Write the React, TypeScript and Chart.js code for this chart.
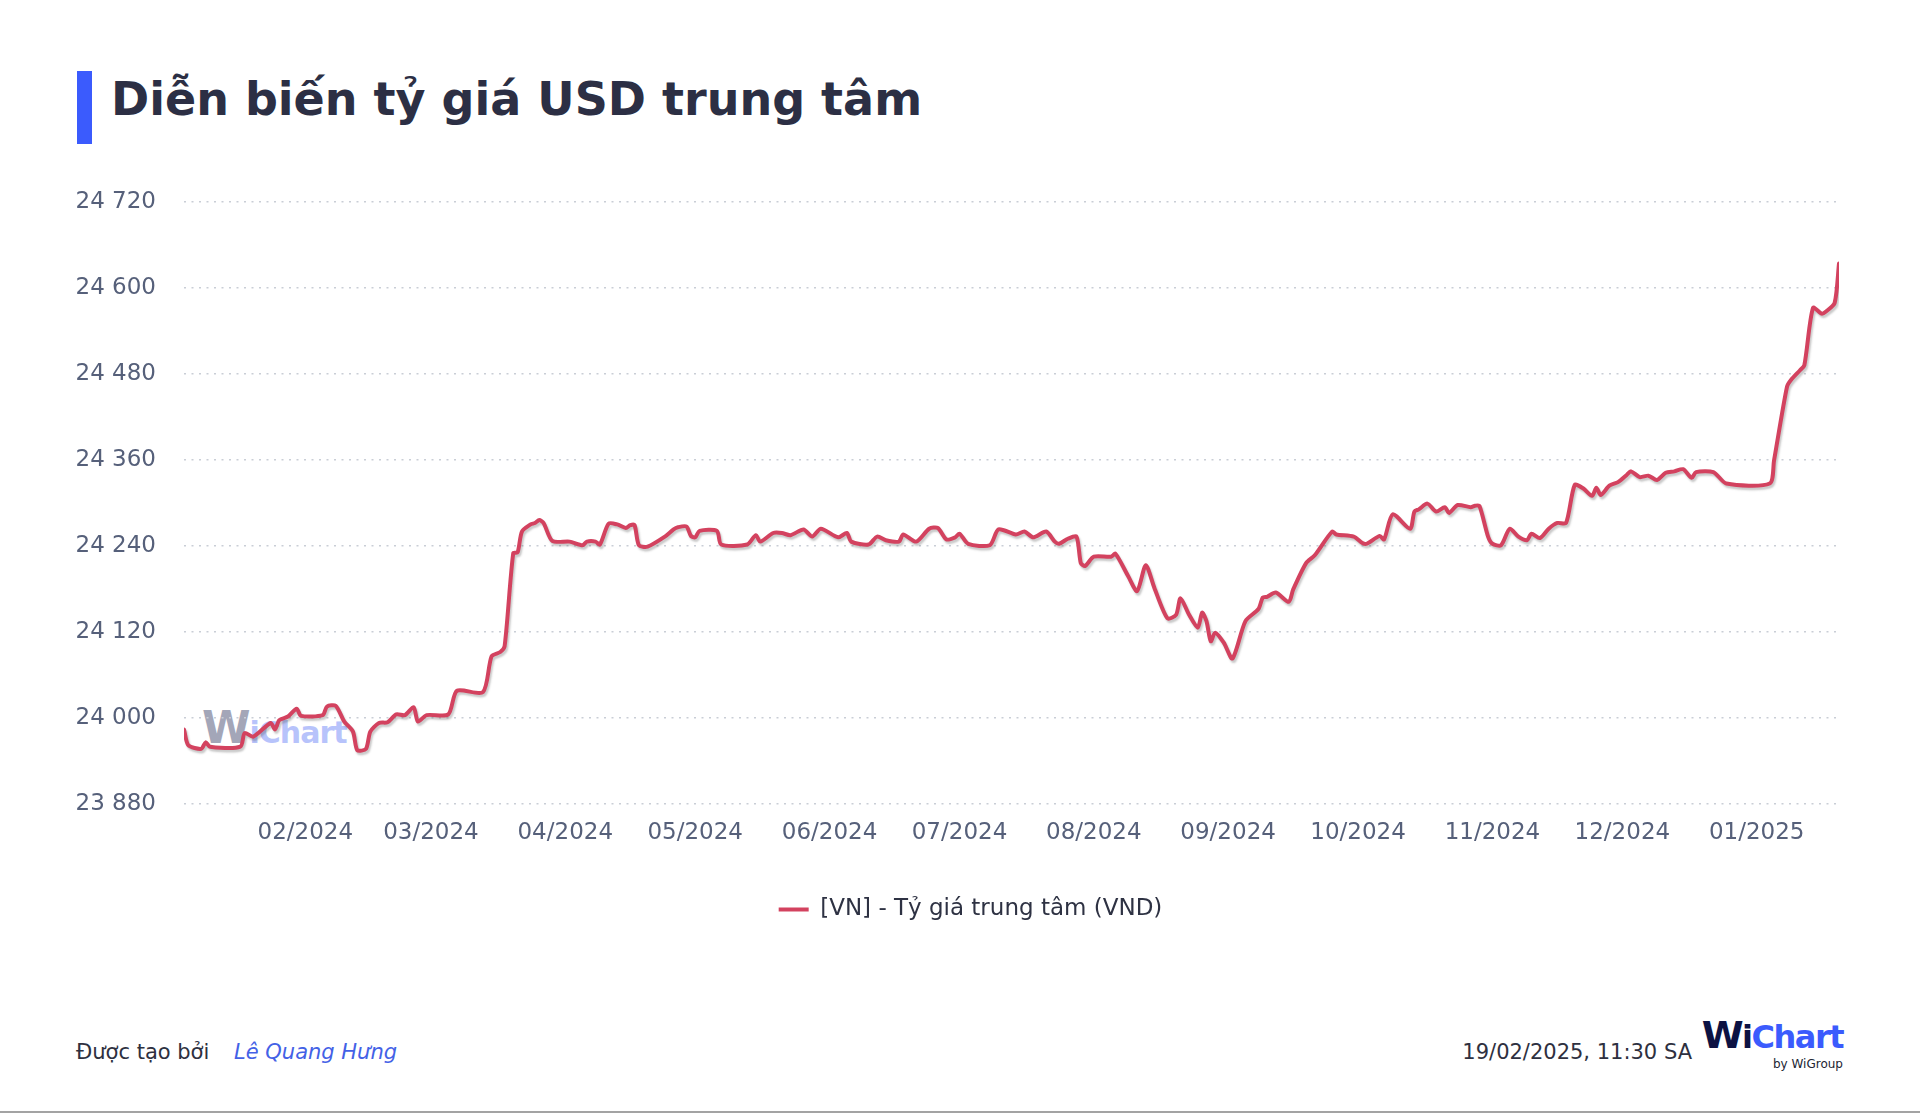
import React, { useEffect, useRef } from "react";
import Chart from "chart.js/auto";

// dates of the points (ISO, UTC)
const dates = [
	"2024-01-04", "2024-01-05", "2024-01-08", "2024-01-09", "2024-01-10", "2024-01-17", "2024-01-18", "2024-01-20",
	"2024-01-24", "2024-01-25", "2024-01-26", "2024-01-28", "2024-01-30", "2024-01-31", "2024-02-05", "2024-02-06",
	"2024-02-08", "2024-02-10", "2024-02-12", "2024-02-13", "2024-02-15", "2024-02-16", "2024-02-18", "2024-02-20",
	"2024-02-22", "2024-02-24", "2024-02-26", "2024-02-27", "2024-02-29", "2024-03-05", "2024-03-07", "2024-03-13",
	"2024-03-15", "2024-03-17", "2024-03-18", "2024-03-20", "2024-03-21", "2024-03-22", "2024-03-24", "2024-03-25",
	"2024-03-26", "2024-03-27", "2024-03-29", "2024-04-02", "2024-04-05", "2024-04-06", "2024-04-08", "2024-04-09",
	"2024-04-11", "2024-04-13", "2024-04-15", "2024-04-16", "2024-04-17", "2024-04-18", "2024-04-20", "2024-04-24",
	"2024-04-26", "2024-04-27", "2024-04-29", "2024-04-30", "2024-05-01", "2024-05-02", "2024-05-06", "2024-05-07",
	"2024-05-13", "2024-05-15", "2024-05-16", "2024-05-19", "2024-05-21", "2024-05-23", "2024-05-26", "2024-05-28",
	"2024-05-30", "2024-06-03", "2024-06-05", "2024-06-06", "2024-06-10", "2024-06-12", "2024-06-14", "2024-06-17",
	"2024-06-18", "2024-06-21", "2024-06-24", "2024-06-26", "2024-06-28", "2024-06-30", "2024-07-01", "2024-07-03",
	"2024-07-08", "2024-07-10", "2024-07-14", "2024-07-16", "2024-07-18", "2024-07-21", "2024-07-23", "2024-07-24",
	"2024-07-26", "2024-07-28", "2024-07-29", "2024-07-30", "2024-08-01", "2024-08-05", "2024-08-06", "2024-08-09",
	"2024-08-11", "2024-08-13", "2024-08-15", "2024-08-18", "2024-08-20", "2024-08-21", "2024-08-23", "2024-08-25",
	"2024-08-26", "2024-08-27", "2024-08-28", "2024-08-29", "2024-08-31", "2024-09-02", "2024-09-05", "2024-09-08",
	"2024-09-09", "2024-09-10", "2024-09-12", "2024-09-15", "2024-09-16", "2024-09-19", "2024-09-21", "2024-09-25",
	"2024-09-26", "2024-09-30", "2024-10-02", "2024-10-03", "2024-10-06", "2024-10-07", "2024-10-09", "2024-10-13",
	"2024-10-14", "2024-10-15", "2024-10-17", "2024-10-19", "2024-10-21", "2024-10-22", "2024-10-24", "2024-10-27",
	"2024-10-28", "2024-10-29", "2024-10-31", "2024-11-01", "2024-11-03", "2024-11-05", "2024-11-07", "2024-11-09",
	"2024-11-10", "2024-11-12", "2024-11-14", "2024-11-16", "2024-11-18", "2024-11-20", "2024-11-22", "2024-11-24",
	"2024-11-25", "2024-11-26", "2024-11-28", "2024-11-30", "2024-12-02", "2024-12-03", "2024-12-05", "2024-12-07",
	"2024-12-09", "2024-12-11", "2024-12-13", "2024-12-15", "2024-12-17", "2024-12-18", "2024-12-22", "2024-12-25",
	"2025-01-04", "2025-01-05", "2025-01-08", "2025-01-09", "2025-01-11", "2025-01-12", "2025-01-14", "2025-01-16",
	"2025-01-17", "2025-01-19", "2025-01-20",
];

// central rate, VND per USD
const rates = [
	23984, 23962, 23957, 23966, 23960, 23960, 23979, 23974,
	23993, 23984, 23997, 24002, 24013, 24003, 24004, 24016,
	24017, 23995, 23981, 23955, 23957, 23981, 23993, 23994,
	24005, 24004, 24015, 23995, 24004, 24005, 24038, 24036,
	24086, 24092, 24100, 24230, 24231, 24260, 24270, 24272,
	24276, 24272, 24247, 24246, 24241, 24246, 24246, 24242,
	24271, 24270, 24265, 24269, 24269, 24241, 24239, 24253,
	24263, 24266, 24267, 24254, 24252, 24261, 24261, 24242,
	24242, 24255, 24246, 24258, 24258, 24255, 24263, 24253,
	24264, 24252, 24258, 24246, 24242, 24253, 24248, 24246,
	24256, 24246, 24264, 24265, 24249, 24252, 24257, 24243,
	24241, 24263, 24256, 24260, 24252, 24260, 24246, 24243,
	24250, 24253, 24216, 24212, 24225, 24225, 24229, 24197,
	24177, 24213, 24181, 24139, 24144, 24167, 24144, 24126,
	24147, 24135, 24107, 24119, 24105, 24083, 24135, 24152,
	24168, 24169, 24175, 24162, 24179, 24216, 24227, 24260,
	24256, 24253, 24244, 24243, 24254, 24249, 24284, 24264,
	24288, 24291, 24299, 24288, 24294, 24286, 24297, 24294,
	24296, 24296, 24253, 24243, 24241, 24264, 24253, 24248,
	24257, 24251, 24264, 24272, 24272, 24325, 24320, 24310,
	24321, 24311, 24324, 24329, 24339, 24344, 24336, 24338,
	24332, 24342, 24344, 24347, 24335, 24343, 24343, 24327,
	24327, 24359, 24462, 24472, 24485, 24492, 24572, 24564,
	24567, 24579, 24634,
];

const monthTicks = [
	"2024-02-01", "2024-03-01", "2024-04-01", "2024-05-01", "2024-06-01", "2024-07-01",
	"2024-08-01", "2024-09-01", "2024-10-01", "2024-11-01", "2024-12-01", "2025-01-01",
];

const yMin = 23880;
const yMax = 24720;
const yStep = 120;

const seriesLabel = "[VN] - Tỷ giá trung tâm (VND)";
const LINE_COLOR = "#d3425f";

const DAY = 86400000;
const BASE = Date.UTC(2024, 0, 1);
const toDay = (s: string) => (Date.parse(s) - BASE) / DAY;

const monthLabel = (day: number) => {
	const d = new Date(BASE + day * DAY);
	const m = String(d.getUTCMonth() + 1).padStart(2, "0");
	return m + "/" + d.getUTCFullYear();
};

const spaced = (v: number) => String(v).replace(/\B(?=(\d{3})+(?!\d))/g, " ");

// soft grey shadow under the line
const shadowPlugin = {
	id: "lineShadow",
	beforeDatasetsDraw(chart: any) {
		const ctx = chart.ctx;
		ctx.save();
		ctx.shadowColor = "rgba(60, 60, 60, 0.28)";
		ctx.shadowBlur = 2;
		ctx.shadowOffsetX = 1.5;
		ctx.shadowOffsetY = 2.5;
	},
	afterDatasetsDraw(chart: any) {
		chart.ctx.restore();
	},
};

// the legend sits a little right of the canvas centre in the original
const legendShift = {
	id: "legendShift",
	afterLayout(chart: any) {
		if (chart.legend) {
			chart.legend.left += 21;
			chart.legend.right += 21;
		}
	},
};

const RateChart: React.FC = () => {
	const chartRef = useRef<HTMLCanvasElement>(null);
	const chartInstance = useRef<Chart>();

	useEffect(() => {
		if (!chartRef.current) return;
		const ctx = chartRef.current.getContext("2d");
		if (!ctx) return;

		chartInstance.current = new Chart(ctx, {
			type: "line",
			data: {
				datasets: [
					{
						label: seriesLabel,
						data: dates.map((d, i) => ({ x: toDay(d), y: rates[i] })),
						borderColor: LINE_COLOR,
						backgroundColor: LINE_COLOR,
						borderWidth: 4,
						borderJoinStyle: "round",
						borderCapStyle: "round",
						pointRadius: 0,
						pointHoverRadius: 0,
						tension: 0.25,
						fill: false,
					},
				],
			},
			plugins: [shadowPlugin, legendShift],
			options: {
				animation: false,
				responsive: true,
				maintainAspectRatio: false,
				layout: { padding: { top: 0, right: 21, bottom: 0, left: 0 } },
				scales: {
					x: {
						type: "linear",
						min: toDay(dates[0]),
						max: toDay(dates[dates.length - 1]),
						grid: { display: false, drawTicks: false },
						border: { display: false },
						afterBuildTicks: (scale: any) => {
							scale.ticks = monthTicks.map((s) => ({ value: toDay(s) }));
						},
						afterFit: (scale: any) => {
							scale.height = 84;
						},
						ticks: {
							autoSkip: false,
							maxRotation: 0,
							padding: 15,
							color: "#56607a",
							font: { family: "'DejaVu Sans', sans-serif", size: 23 },
							callback: (value: any) => monthLabel(Number(value)),
						},
					},
					y: {
						min: yMin,
						max: yMax,
						grid: { color: "#c9ced6", lineWidth: 1.5, drawTicks: false },
						border: { display: false, dash: [2, 5.5] },
						afterFit: (scale: any) => {
							scale.width = 124;
						},
						ticks: {
							stepSize: yStep,
							padding: 28,
							color: "#56607a",
							font: { family: "'DejaVu Sans', sans-serif", size: 23 },
							callback: (value: any) => spaced(Number(value)),
						},
					},
				},
				plugins: {
					legend: {
						position: "bottom",
						labels: {
							usePointStyle: true,
							pointStyle: "line",
							pointStyleWidth: 30,
							padding: 10,
							color: "#2e3243",
							font: { family: "'DejaVu Sans', sans-serif", size: 23 },
						},
					},
					tooltip: { enabled: false },
				},
			},
		});

		return () => {
			if (chartInstance.current) {
				chartInstance.current.destroy();
			}
		};
	}, []);

	return (
		<div style={{ position: "absolute", left: 60, top: 160, width: 1800, height: 771 }}>
			<canvas ref={chartRef} />
		</div>
	);
};

const App: React.FC = () => {
	return (
		<div
			style={{
				position: "absolute",
				left: 0,
				top: 0,
				width: 1920,
				height: 1113,
				background: "#ffffff",
				overflow: "hidden",
				fontFamily: "'DejaVu Sans', sans-serif",
			}}
		>
			<div style={{ position: "absolute", left: 77, top: 71, width: 15, height: 73, background: "#3b5bfd" }} />
			<div
				style={{
					position: "absolute",
					left: 111,
					top: 76,
					fontSize: 46,
					lineHeight: "1",
					fontWeight: 700,
					color: "#2c2f44",
					whiteSpace: "nowrap",
				}}
			>
				Diễn biến tỷ giá USD trung tâm
			</div>

			{/* watermark behind the plot */}
			<div
				style={{
					position: "absolute",
					left: 202,
					top: 706,
					fontWeight: 700,
					whiteSpace: "nowrap",
					lineHeight: "1",
					letterSpacing: -1,
				}}
			>
				<span style={{ fontSize: 44, color: "#a3a6b8" }}>W</span>
				<span style={{ fontSize: 30, color: "#b7c3fb" }}>iChart</span>
			</div>

			<RateChart />

			<div style={{ position: "absolute", left: 76, top: 1041, fontSize: 21, lineHeight: "1.1", color: "#2e3040", whiteSpace: "nowrap" }}>
				Được tạo bởi
			</div>
			<div
				style={{
					position: "absolute",
					left: 234,
					top: 1041,
					fontSize: 21,
					lineHeight: "1.1",
					fontStyle: "italic",
					color: "#4361e6",
					whiteSpace: "nowrap",
				}}
			>
				Lê Quang Hưng
			</div>
			<div
				style={{
					position: "absolute",
					right: 228,
					top: 1041,
					fontSize: 21,
					lineHeight: "1.1",
					color: "#2e3040",
					whiteSpace: "nowrap",
				}}
			>
				19/02/2025, 11:30 SA
			</div>

			{/* WiChart logo */}
			<div style={{ position: "absolute", right: 77, top: 1016, textAlign: "right", whiteSpace: "nowrap" }}>
				<div style={{ fontSize: 38, lineHeight: "1", fontWeight: 700, letterSpacing: -1.5 }}>
					<span style={{ color: "#0c1243" }}>W</span>
					<span style={{ color: "#0c1243", fontSize: 32 }}>i</span>
					<span style={{ color: "#3b5bfd", fontSize: 32 }}>Chart</span>
				</div>
				<div style={{ fontSize: 12, lineHeight: "1.2", color: "#222533", marginTop: 3 }}>by WiGroup</div>
			</div>

			<div style={{ position: "absolute", left: 0, top: 1111, width: 1920, height: 2, background: "#a3a3a3" }} />
		</div>
	);
};

export default App;
